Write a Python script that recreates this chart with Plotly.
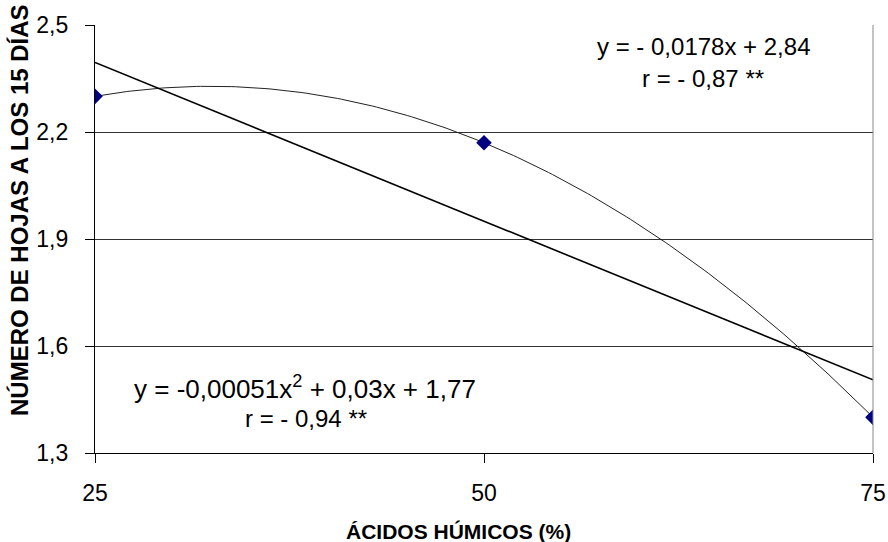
import numpy as np
import plotly.graph_objects as go

# Data
acidos_humicos = [25, 50, 75]
num_hojas = [2.30, 2.17, 1.40]

# Linear trendline coefficients (as shown on chart)
lin_slope = -0.0178
lin_intercept = 2.84

y_ticks = [1.3, 1.6, 1.9, 2.2, 2.5]
x_ticks = [25, 50, 75]

eq_lin_1 = "y = - 0,0178x + 2,84"
eq_lin_2 = "r = - 0,87 **"
eq_quad_1 = "y = -0,00051x<sup>2</sup> + 0,03x + 1,77"
eq_quad_2 = "r = - 0,94 **"
x_title = "ÁCIDOS HÚMICOS (%)"
y_title = "NÚMERO DE HOJAS A LOS 15 DÍAS"

# Trendlines computed from data
xs = np.linspace(min(acidos_humicos), max(acidos_humicos), 200)
quad = np.polyfit(acidos_humicos, num_hojas, 2)
y_quad = np.polyval(quad, xs)
x_lin = [min(acidos_humicos), max(acidos_humicos)]
y_lin = [lin_slope * v + lin_intercept for v in x_lin]

FONT = "Liberation Sans, Arial, sans-serif"

# plot area in pixels
L, R, T, B = 95, 873, 25, 453
W, H = 888, 542


def px(xp):
    return (xp - L) / (R - L)


def py(yp):
    return (B - yp) / (B - T)


fig = go.Figure()
fig.add_trace(go.Scatter(x=xs, y=y_quad, mode="lines",
                         line=dict(color="#222222", width=1), hoverinfo="skip"))
fig.add_trace(go.Scatter(x=x_lin, y=y_lin, mode="lines",
                         line=dict(color="black", width=1.6), hoverinfo="skip"))
fig.add_trace(go.Scatter(x=acidos_humicos, y=num_hojas, mode="markers",
                         marker=dict(symbol="diamond", color="#000080", size=12)))

fig.update_layout(
    width=W, height=H,
    margin=dict(l=L, r=W - R, t=T, b=H - B, autoexpand=False),
    paper_bgcolor="white", plot_bgcolor="white",
    showlegend=False,
    separators=",.",
    font=dict(family=FONT, size=23, color="black"),
    xaxis=dict(range=[25, 75], tickvals=x_ticks, showgrid=False, zeroline=False,
               showline=True, linecolor="black", linewidth=1.3,
               ticks="outside", ticklen=9, tickcolor="black", tickwidth=1,
               tickfont=dict(size=23, family=FONT), ticklabelstandoff=10,
               automargin=False),
    yaxis=dict(range=[1.3, 2.5], tickvals=y_ticks, tickformat=".1f",
               showgrid=True, gridcolor="#333333", gridwidth=1, zeroline=False,
               showline=True, linecolor="black", linewidth=1.3,
               ticks="outside", ticklen=9, tickcolor="black", tickwidth=1,
               tickfont=dict(size=23, family=FONT), ticklabelstandoff=12,
               automargin=False),
)

# right edge of plot area
fig.add_shape(type="line", xref="paper", yref="paper", x0=1, x1=1, y0=0, y1=1,
              line=dict(color="#888888", width=1))

ann_font = dict(size=24, family=FONT)
common = dict(xref="paper", yref="paper", showarrow=False,
              xanchor="center", yanchor="middle")
fig.add_annotation(text=eq_lin_1, x=px(703), y=py(46), font=ann_font, **common)
fig.add_annotation(text=eq_lin_2, x=px(703), y=py(79), font=ann_font, **common)
fig.add_annotation(text=eq_quad_1, x=px(305), y=py(387), font=dict(size=26, family=FONT), **common)
fig.add_annotation(text=eq_quad_2, x=px(306), y=py(418), font=ann_font, **common)

fig.add_annotation(text="<b>" + x_title + "</b>", x=px(458), y=py(531),
                   font=dict(size=21, family=FONT), **common)
fig.add_annotation(text="<b>" + y_title + "</b>", x=px(20), y=py(210),
                   textangle=-90, font=dict(size=24, family=FONT), **common)

fig.write_html("out.html",
               config={"displayModeBar": False},
               post_script="document.body.style.margin='0';document.body.style.overflow='hidden';")
